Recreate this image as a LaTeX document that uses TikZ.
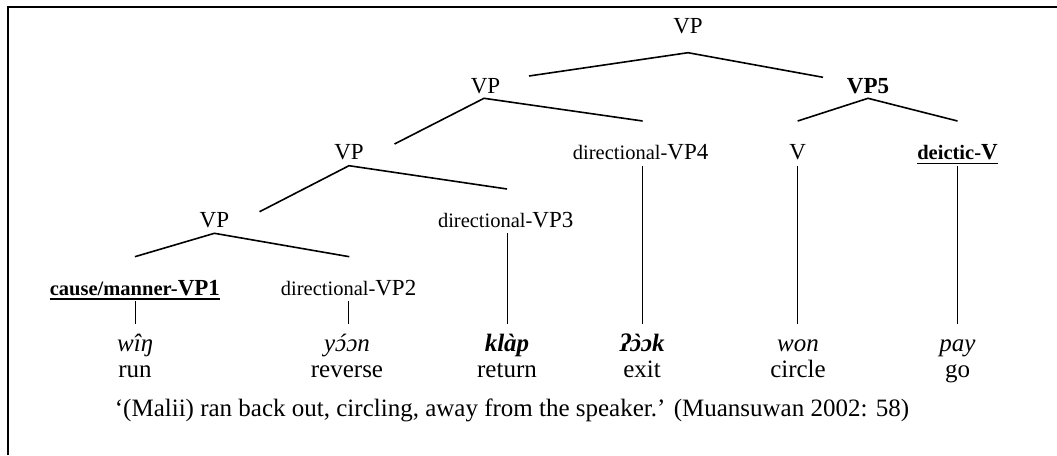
\documentclass[tikz,border=0pt]{standalone}
\usepackage{fontspec}
\setmainfont{Liberation Serif}
\newfontfamily\accf{Liberation Serif}
\newcommand{\pfx}[1]{{\fontsize{20.5}{24}\selectfont #1}}
\newcommand{\ac}[2]{\leavevmode\setbox0=\hbox{#2}\rlap{\hbox to\wd0{\hss\kern2.5pt{\accf #1}\hss}}\box0}
\tikzset{
  lab/.style={inner sep=0pt, anchor=base, font=\fontsize{23}{27}\selectfont},
  wd/.style={inner sep=0pt, anchor=base, font=\fontsize{25}{29}\selectfont\itshape},
  wdb/.style={wd, font=\fontsize{25}{29}\selectfont\bfseries\itshape},
  gl/.style={inner sep=0pt, anchor=base, font=\fontsize{25}{29}\selectfont},
  br/.style={line width=1.6pt},
  vl/.style={line width=0.9pt},
  ul/.style={line width=1.8pt},
  frameline/.style={line width=2pt}
}
\begin{document}
\begin{tikzpicture}[x=1pt,y=-1pt]
\useasboundingbox (0,0) rectangle (1057,455);
\draw[frameline] (8,455) -- (8,7) -- (1057,7);
% labels
\node[lab] (n0) at (688,33) {VP};
\node[lab] (n1) at (485.5,93) {VP};
\node[lab] (n5) at (868,93) {\textbf{VP5}};
\node[lab] (n2) at (349,159.5) {VP};
\node[lab] (n4) at (640.6,159.5) {\pfx{directional-}VP4};
\node[lab] (nv) at (797.7,159.5) {V};
\node[lab] (nd) at (957.5,159.5) {\textbf{\pfx{deictic-}V}};
\node[lab] (n3) at (214.4,227) {VP};
\node[lab] (n33) at (505.7,227.5) {\pfx{directional-}VP3};
\node[lab] (n11) at (134.9,295) {\textbf{\pfx{cause/manner-}VP1}};
\node[lab] (n22) at (348.6,295) {\pfx{directional-}VP2};
% underlines
\draw[ul] ([yshift=-4pt]n11.base west) -- ([yshift=-4pt]n11.base east);
\draw[ul] ([yshift=-4pt]nd.base west) -- ([yshift=-4pt]nd.base east);
% words
\node[wd] (w1) at (135,351) {wîŋ};
\node[wd] (w2) at (347,351) {y\ac{´}{ɔ}ɔn};
\node[wdb] (w3) at (507,351) {klàp};
\node[wdb] (w4) at (642,351) {ʔ\ac{`}{ɔ}ɔk};
\node[wd] (w5) at (798,351) {won};
\node[wd] (w6) at (957.5,351) {pay};
\node[gl] (g1) at (135,377) {run};
\node[gl] (g2) at (347,377) {reverse};
\node[gl] (g3) at (507,377) {return};
\node[gl] (g4) at (642,377) {exit};
\node[gl] (g5) at (798,377) {circle};
\node[gl] (g6) at (957.5,377) {go};
\node[gl] (tr) at (512,416) {‘(Malii) ran back out, circling, away from the speaker.’ (Muansuwan 2002: 58)};
% branch coordinates
\coordinate (a0) at (688,52.7);  \coordinate (a0l) at (529,76);    \coordinate (a0r) at (823,77.3);
\coordinate (a1) at (484,98.3);  \coordinate (a1l) at (394.5,144); \coordinate (a1r) at (642.6,121);
\coordinate (a5) at (868,98.3);  \coordinate (a5l) at (797.7,121); \coordinate (a5r) at (957.5,121);
\coordinate (a2) at (349,165.7); \coordinate (a2l) at (259.6,211.7); \coordinate (a2r) at (507,189);
\coordinate (a3) at (214.4,233.3); \coordinate (a3l) at (134.9,256.7); \coordinate (a3r) at (349.3,256.7);
\draw[br] (a0l) -- (a0) -- (a0r);
\draw[br] (a1l) -- (a1) -- (a1r);
\draw[br] (a5l) -- (a5) -- (a5r);
\draw[br] (a2l) -- (a2) -- (a2r);
\draw[br] (a3l) -- (a3) -- (a3r);
% vertical lines
\coordinate (v4t) at (642,165.7);   \coordinate (v4b) at (642,324);
\coordinate (vvt) at (797.7,165.7); \coordinate (vvb) at (797.7,324);
\coordinate (vdt) at (957.5,165.7); \coordinate (vdb) at (957.5,324);
\coordinate (v3t) at (507,233.3);   \coordinate (v3b) at (507,324);
\coordinate (v1t) at (135,301);     \coordinate (v1b) at (135,324);
\coordinate (v2t) at (348.6,301);   \coordinate (v2b) at (348.6,324);
\draw[vl] (v4t) -- (v4b);
\draw[vl] (vvt) -- (vvb);
\draw[vl] (vdt) -- (vdb);
\draw[vl] (v3t) -- (v3b);
\draw[vl] (v1t) -- (v1b);
\draw[vl] (v2t) -- (v2b);
\end{tikzpicture}
\end{document}
